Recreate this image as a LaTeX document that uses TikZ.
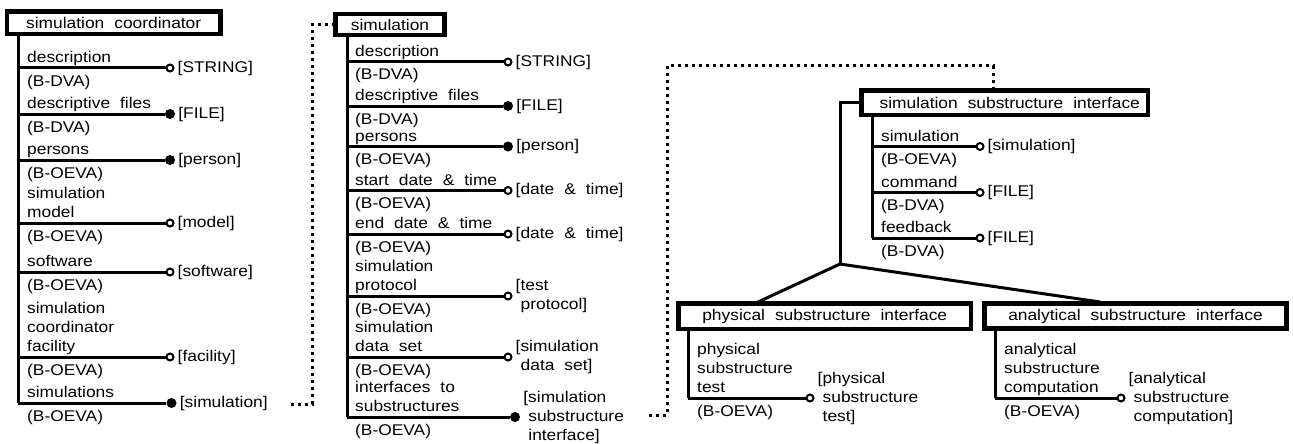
\documentclass[tikz,border=0pt]{standalone}
\usepackage{fontspec}
\setmainfont{Liberation Sans}[FakeStretch=1.12]
\newcommand\ff{\fontsize{15.5}{19}\selectfont\spaceskip=10pt plus 1pt\relax}
\tikzset{
  box/.style={draw, line width=4.5pt, inner sep=0pt, font=\ff},
  trunk/.style={line width=3pt},
  rel/.style={line width=3pt},
  opendot/.style={circle, draw, fill=white, line width=2pt, minimum size=7pt, inner sep=0pt},
  filldot/.style={circle, fill=black, minimum size=10pt, inner sep=0pt},
  toptext/.style={anchor=south west, inner sep=0pt, align=left, text depth=0pt, font=\ff},
  bottext/.style={anchor=base west, inner sep=0pt, font=\ff},
  target/.style={anchor=west, inner sep=0pt, align=left, font=\ff},
  dotline/.style={line width=3pt, dash pattern=on 3pt off 4pt},
}
\newcommand\attrow[9]{%
  \coordinate (#1-s) at (#2,#3);
  \node[#8] (#1-d) at (#4,#3) {};
  \draw[rel] (#1-s) -- (#1-d);
  \node[toptext] (#1-n) at (#5,#3-5) {#6};
  \node[bottext] (#1-r) at (#5,#3+18) {#7};
  \node[target] (#1-t) at ([xshift=3pt]#1-d.east) {#9};
}
\newcommand\ind{\hspace{5pt}}
\begin{document}
\begin{tikzpicture}[x=1pt,y=-1pt]
\useasboundingbox (0,0) rectangle (1293,444);
% boxes
\node[box, minimum width=213.5pt, minimum height=22.5pt] (b1) at (113.7,22.7) {simulation coordinator};
\node[box, minimum width=109pt, minimum height=21pt] (b2) at (390,24.5) {simulation};
\node[box, minimum width=286.5pt, minimum height=24.5pt] (b3) at (1004.75,102.8) {\hspace{10pt}simulation substructure interface};
\node[box, minimum width=292.5pt, minimum height=25.5pt] (bp) at (824.75,316.25) {physical substructure interface};
\node[box, minimum width=302pt, minimum height=25pt] (ba) at (1135.5,316) {analytical substructure interface};
% column 1
\attrow{a1}{18}{68}{170}{27}{description}{(B-DVA)}{opendot}{[STRING]}
\attrow{a2}{18}{114}{170}{27}{descriptive files}{(B-DVA)}{filldot}{[FILE]}
\attrow{a3}{18}{160}{170}{27}{persons}{(B-OEVA)}{filldot}{[person]}
\attrow{a4}{18}{223}{170}{27}{simulation\\model}{(B-OEVA)}{opendot}{[model]}
\attrow{a5}{18}{272}{170}{27}{software}{(B-OEVA)}{opendot}{[software]}
\attrow{a6}{18}{357}{170}{27}{simulation\\coordinator\\facility}{(B-OEVA)}{opendot}{[facility]}
\attrow{a7}{18}{403}{171.5}{27}{simulations}{(B-OEVA)}{filldot}{[simulation]}
\draw[trunk] (b1.south -| a1-s) -- (a7-s);
% column 2
\attrow{s1}{347}{62}{508}{355}{description}{(B-DVA)}{opendot}{[STRING]}
\attrow{s2}{347}{106}{508}{355}{descriptive files}{(B-DVA)}{filldot}{[FILE]}
\attrow{s3}{347}{146.5}{508}{355}{persons}{(B-OEVA)}{filldot}{[person]}
\attrow{s4}{347}{190.5}{508}{355}{start date \& time}{(B-OEVA)}{opendot}{[date \& time]}
\attrow{s5}{347}{234}{508}{355}{end date \& time}{(B-OEVA)}{opendot}{[date \& time]}
\attrow{s6}{347}{296}{508}{355}{simulation\\protocol}{(B-OEVA)}{opendot}{[test\\\ind protocol]}
\attrow{s7}{347}{357}{508}{355}{simulation\\data set}{(B-OEVA)}{opendot}{[simulation\\\ind data set]}
\attrow{s8}{347}{417}{515}{355}{interfaces to\\substructures}{(B-OEVA)}{filldot}{[simulation\\\ind substructure\\\ind interface]}
\draw[trunk] (b2.south -| s1-s) -- (s8-s);
% column 3
\attrow{i1}{872}{146.5}{980}{881}{simulation}{(B-OEVA)}{opendot}{[simulation]}
\attrow{i2}{872}{192.5}{980}{881}{command}{(B-DVA)}{opendot}{[FILE]}
\attrow{i3}{872}{238}{980}{881}{feedback}{(B-DVA)}{opendot}{[FILE]}
\draw[trunk] (b3.south -| i1-s) -- (i3-s);
% substructure interfaces
\attrow{p1}{688}{398}{810}{697}{physical\\substructure\\test}{(B-OEVA)}{opendot}{[physical\\\ind substructure\\\ind test]}
\draw[trunk] (bp.south -| p1-s) -- (p1-s);
\attrow{q1}{995}{398}{1121}{1004}{analytical\\substructure\\computation}{(B-OEVA)}{opendot}{[analytical\\\ind substructure\\\ind computation]}
\draw[trunk] (ba.south -| q1-s) -- (q1-s);
% tree
\coordinate (j) at (840,264);
\coordinate (pj) at (758,302);
\coordinate (aj) at (1100,302);
\draw[trunk] (b3.west) -- (b3.west -| j) -- (j);
\draw[trunk] (j) -- (pj);
\draw[trunk] (j) -- (aj);
% dotted links
\coordinate (d1s) at (291,404);
\coordinate (d1x) at (312,23);
\draw[dotline] (d1s) -| (d1x |- b2.west) -- (b2.west);
\coordinate (d2s) at (649,415);
\coordinate (d2x) at (667,66);
\coordinate (d2e) at (993,88);
\draw[dotline] (d2s) -| (d2x) -| (d2e);
\end{tikzpicture}
\end{document}
